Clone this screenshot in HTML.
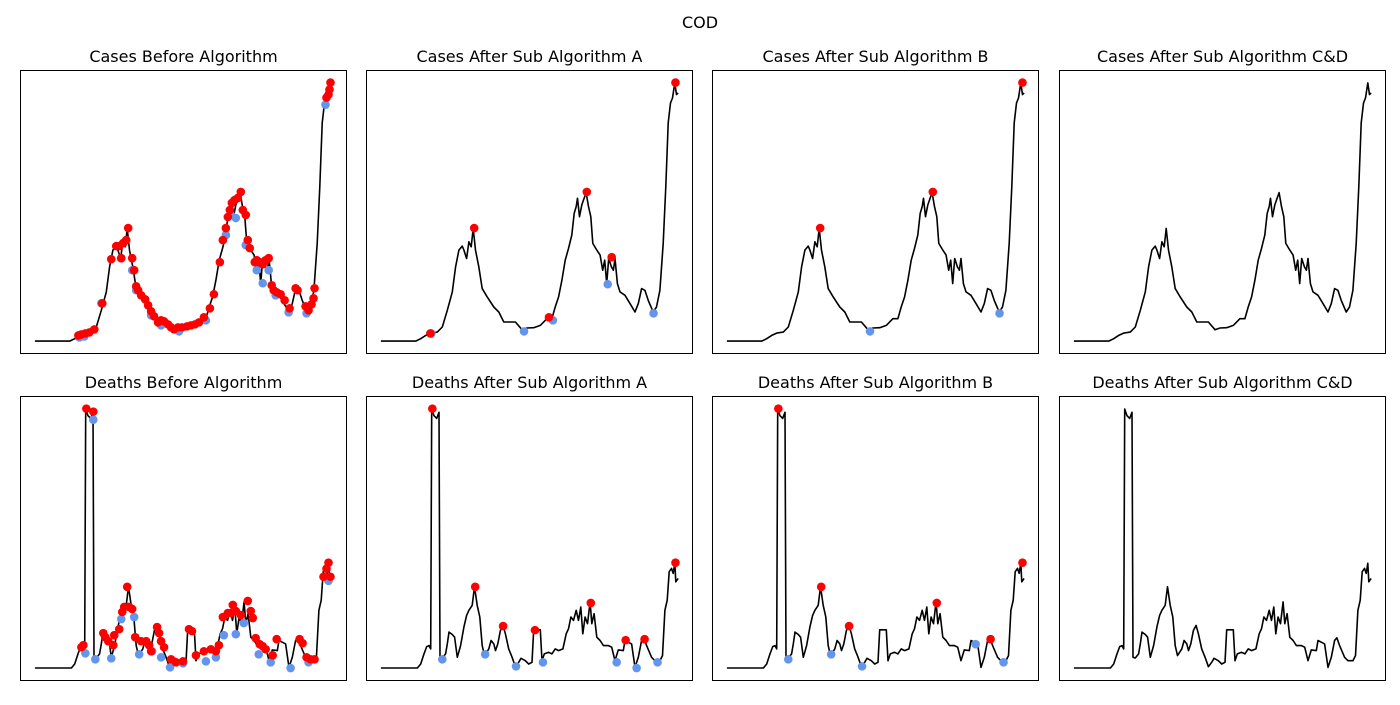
<!DOCTYPE html>
<html><head><meta charset="utf-8"><style>
html,body{margin:0;padding:0;background:#fff;}
svg text{font-family:"DejaVu Sans","Liberation Sans",sans-serif;}
</style></head><body>
<svg id="fig" width="1400" height="700" viewBox="0 0 1400 700" xmlns="http://www.w3.org/2000/svg">
<rect x="0" y="0" width="1400" height="700" fill="#fff"/>
<text x="700" y="28" font-size="16" text-anchor="middle">COD</text>
</svg>
<script>
const caseDays=[0,105,120,135,150,170,185,200,215,225,235,245,250,258,265,272,278,285,295,305,320,340,355,370,390,405,425,440,460,480,500,515,525,535,545,555,565,575,582,588,592,598,605,610,618,625,632,638,650,660,668,674,680,686,694,700,705,712,720,735,750,765,775,785,795,805,820,830,840,850,858,865,872,878,885,890,895];
const caseVals=[0,0,7,17,24,27,42,92,147,222,272,284,272,247,297,282,337,272,222,157,132,102,87,57,57,57,34,39,40,47,67,67,102,132,182,242,277,317,382,402,427,372,407,422,444,402,372,292,272,257,212,242,172,247,222,212,247,172,147,137,112,87,112,157,152,122,87,102,152,292,462,652,712,727,772,737,742];
const deathDays=[0,110,120,130,138,145,150,153,160,168,175,178,185,195,200,205,215,222,230,240,250,258,265,275,282,290,298,305,312,325,332,340,345,352,360,368,375,385,395,405,415,422,435,445,455,460,470,480,485,492,505,515,525,535,548,558,565,572,580,588,595,602,608,615,622,630,635,642,650,660,670,685,695,705,715,730,735,745,755,765,775,785,792,800,815,825,840,848,855,862,868,875,880,885,888,895];
const deathVals=[0,0,12,42,64,67,57,772,752,744,762,32,30,42,72,107,100,92,32,67,122,157,172,187,242,187,152,67,37,57,82,72,52,72,112,127,102,57,32,4,17,29,22,12,17,114,114,114,22,42,47,42,57,52,57,102,117,152,142,172,142,182,102,152,132,197,132,162,92,82,67,67,62,22,54,52,82,77,72,2,32,82,90,67,32,22,22,37,172,202,287,297,282,312,257,267];

// scatter points: [day, value]
const casesBeforeBlue=[[134,11],[149,14],[200,113],[260,248],[293,212],[305,152],[350,77],[380,47],[434,29],[515,62],[575,317],[590,377],[605,368],[635,287],[668,212],[686,173],[704,212],[725,137],[764,86],[818,83],[875,707]];
const casesBeforeRed=[[131,17],[140,20],[152,23],[164,26],[179,35],[203,113],[230,245],[245,284],[254,284],[260,248],[266,293],[275,302],[281,338],[293,248],[299,212],[305,164],[311,152],[320,137],[332,125],[341,107],[350,89],[359,74],[371,56],[380,62],[389,59],[401,50],[410,41],[419,35],[431,41],[443,41],[458,44],[470,47],[482,50],[494,56],[509,71],[527,98],[539,140],[557,236],[566,302],[575,338],[581,371],[587,392],[593,413],[602,422],[611,428],[620,446],[626,392],[635,377],[641,302],[647,278],[662,236],[668,242],[677,236],[686,230],[695,242],[704,248],[713,167],[719,152],[728,146],[740,140],[752,122],[767,98],[785,158],[791,152],[815,104],[824,92],[833,110],[839,128],[842,158],[878,728],[884,737],[887,752],[890,773]];
const casesABlue=[[152,23],[431,29],[518,62],[683,170],[821,83]];
const casesARed=[[149,23],[281,338],[506,71],[620,446],[695,251],[887,773]];
const casesBBlue=[[431,29],[821,83]];
const casesBRed=[[281,338],[620,446],[890,773]];
const deathsBeforeBlue=[[152,44],[176,740],[182,26],[230,29],[260,146],[299,152],[314,41],[353,50],[380,32],[407,2],[446,14],[515,20],[545,32],[569,98],[605,101],[629,134],[674,41],[710,17],[770,0],[824,17],[884,260]];
const deathsBeforeRed=[[140,62],[146,68],[155,773],[176,764],[206,104],[212,92],[221,80],[236,68],[239,98],[254,116],[263,167],[269,182],[278,242],[284,182],[293,176],[302,92],[320,80],[335,80],[344,68],[350,50],[368,122],[374,104],[380,80],[389,62],[410,26],[425,17],[446,20],[464,116],[473,110],[485,38],[509,50],[530,56],[545,50],[554,68],[566,152],[581,164],[590,164],[596,188],[605,170],[620,158],[641,200],[650,170],[656,149],[665,89],[677,71],[686,65],[695,56],[716,38],[728,86],[797,86],[806,74],[818,32],[830,26],[842,26],[869,272],[878,296],[884,314],[890,272]];
const deathsABlue=[[185,26],[314,41],[407,5],[488,17],[710,17],[770,0],[833,17]];
const deathsARed=[[155,773],[284,242],[368,125],[464,113],[632,194],[737,83],[794,86],[887,314]];
const deathsBBlue=[[185,26],[314,41],[407,5],[749,71],[833,17]];
const deathsBRed=[[155,773],[284,242],[368,125],[632,194],[794,86],[890,314]];

const panelTitles=["Cases Before Algorithm","Cases After Sub Algorithm A","Cases After Sub Algorithm B","Cases After Sub Algorithm C&D","Deaths Before Algorithm","Deaths After Sub Algorithm A","Deaths After Sub Algorithm B","Deaths After Sub Algorithm C&D"];
const colLeft=[20,366,712,1059], colW=327;
const rowTop=[70,396], rowH=[284,285];
const NS="http://www.w3.org/2000/svg";
const svg=document.getElementById('fig');
function mk(tag,attrs,parent){const e=document.createElementNS(NS,tag);for(const k in attrs)e.setAttribute(k,attrs[k]);(parent||svg).appendChild(e);return e;}

const panels=[
 {line:[caseDays,caseVals],blue:casesBeforeBlue,red:casesBeforeRed},
 {line:[caseDays,caseVals],blue:casesABlue,red:casesARed},
 {line:[caseDays,caseVals],blue:casesBBlue,red:casesBRed},
 {line:[caseDays,caseVals],blue:[],red:[]},
 {line:[deathDays,deathVals],blue:deathsBeforeBlue,red:deathsBeforeRed},
 {line:[deathDays,deathVals],blue:deathsABlue,red:deathsARed},
 {line:[deathDays,deathVals],blue:deathsBBlue,red:deathsBRed},
 {line:[deathDays,deathVals],blue:[],red:[]}
];
panels.forEach((p,i)=>{
  const r=Math.floor(i/4), c=i%4;
  const L=colLeft[c], T=rowTop[r], W=colW, H=rowH[r];
  const xs=p.line[0], ys=p.line[1];
  const x0=Math.min(...xs), x1=Math.max(...xs), y0=Math.min(...ys), y1=Math.max(...ys);
  const xr=x1-x0, yr=y1-y0;
  const dx0=x0-0.05*xr, dx1=x1+0.05*xr, dy0=y0-0.05*yr, dy1=y1+0.05*yr;
  const X=d=>L+(d-dx0)/(dx1-dx0)*W;
  const Y=v=>T+H-(v-dy0)/(dy1-dy0)*H;
  const g=mk('g',{});
  
  
  const t=mk('text',{x:L+W/2,y:T-8,'font-size':16,'text-anchor':'middle'},g);
  t.textContent=panelTitles[i];
  
  
  let d='';
  xs.forEach((x,k)=>{d+=(k?'L':'M')+X(x).toFixed(1)+','+Y(ys[k]).toFixed(1);});
  const path=mk('path',{d:d,fill:'none',stroke:'#000','stroke-width':1.6,'stroke-linejoin':'round'},g);
  
  
  p.blue.forEach(pt=>{
    const m=mk('circle',{cx:X(pt[0]),cy:Y(pt[1]),r:4.3,fill:'#6495ed'},g);
    
    
  });
  p.red.forEach(pt=>{
    const m=mk('circle',{cx:X(pt[0]),cy:Y(pt[1]),r:4.3,fill:'#ff0000'},g);
    
    
  });
  const fr=mk('rect',{x:L+0.5,y:T+0.5,width:W-1,height:H-1,fill:'none',stroke:'#000','stroke-width':1},g);
  
  
});
</script>
</body></html>
